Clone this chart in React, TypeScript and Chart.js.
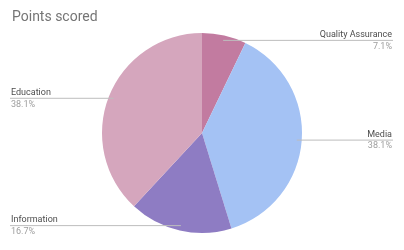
import React, { useEffect, useRef } from "react";
import { Chart, registerables, Plugin } from "chart.js";

Chart.register(...registerables);

const title = "Points scored";
const categories = ["Quality Assurance", "Media", "Information", "Education"];
const points = [3, 16, 7, 16];
const sliceColors = ["#c27ba0", "#a4c2f4", "#8e7cc3", "#d5a6bd"];

const FONT = "Roboto, 'Noto Sans', sans-serif";

// Title plus outside labels with leader lines, in the Sheets style
const labelPlugin: Plugin<"pie"> = {
  id: "sheetLabels",
  afterDraw(chart) {
    const ctx = chart.ctx;
    const W = chart.width;
    const total = points.reduce((a, b) => a + b, 0);
    ctx.save();
    ctx.fillStyle = "#757575";
    ctx.font = `14px ${FONT}`;
    ctx.textAlign = "left";
    ctx.textBaseline = "middle";
    ctx.fillText(title, 12, 17);

    const meta = chart.getDatasetMeta(0);
    meta.data.forEach((el: any, i: number) => {
      const { x, y, startAngle, endAngle, outerRadius } = el.getProps(
        ["x", "y", "startAngle", "endAngle", "outerRadius"],
        true
      );
      const mid = (startAngle + endAngle) / 2;
      const sx = x + Math.cos(mid) * outerRadius * 0.95;
      const sy = y + Math.sin(mid) * outerRadius * 0.95;
      const right = Math.cos(mid) >= 0;
      const ex = right ? W - 11 : 10;
      ctx.strokeStyle = "#bdbdbd";
      ctx.lineWidth = 1;
      ctx.beginPath();
      ctx.moveTo(sx, sy);
      ctx.lineTo(ex, sy);
      ctx.stroke();

      const tx = right ? W - 12 : 11;
      ctx.textAlign = right ? "right" : "left";
      ctx.textBaseline = "middle";
      ctx.font = `9px ${FONT}`;
      ctx.fillStyle = "#4d4d4d";
      ctx.fillText(categories[i], tx, sy - 5.5);
      ctx.fillStyle = "#9e9e9e";
      ctx.fillText(((points[i] / total) * 100).toFixed(1) + "%", tx, sy + 6);
    });
    ctx.restore();
  },
};

export default function App() {
  const ref = useRef<HTMLCanvasElement | null>(null);

  useEffect(() => {
    document.body.style.margin = "0";
    if (!ref.current) return;
    const chart = new Chart(ref.current, {
      type: "pie",
      data: {
        labels: categories,
        datasets: [
          {
            data: points,
            backgroundColor: sliceColors,
            borderWidth: 0,
          },
        ],
      },
      options: {
        responsive: false,
        animation: false,
        layout: { padding: { top: 33, bottom: 17, left: 0, right: 0 } },
        plugins: {
          legend: { display: false },
          tooltip: { enabled: false },
          title: { display: false },
        },
      },
      plugins: [labelPlugin],
    });
    return () => chart.destroy();
  }, []);

  return (
    <div style={{ width: 404, height: 250, background: "#ffffff" }}>
      <canvas ref={ref} width={404} height={250} />
    </div>
  );
}
